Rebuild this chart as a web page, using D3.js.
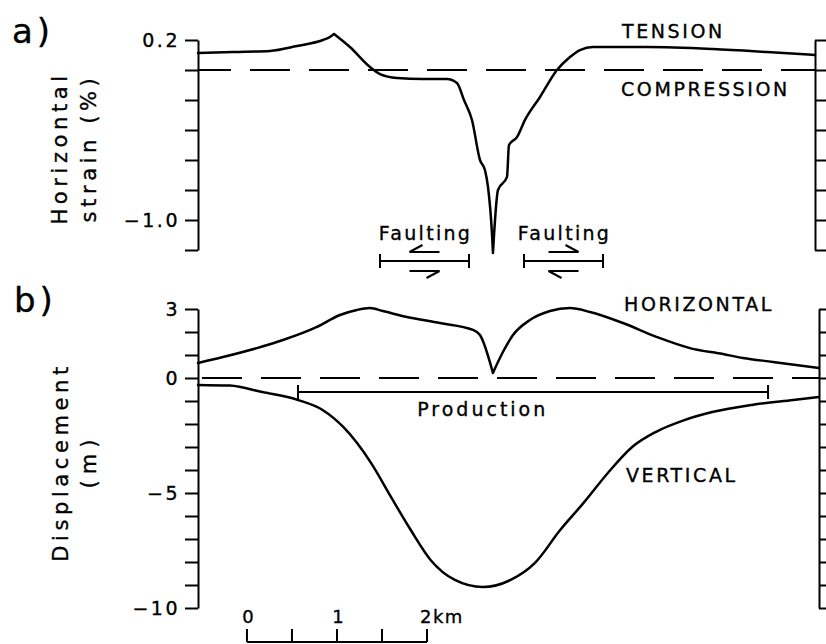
<!DOCTYPE html>
<html><head><meta charset="utf-8">
<script src="https://cdn.jsdelivr.net/npm/d3@7"></script>
<style>body{margin:0;background:#fff}svg{display:block}</style>
</head><body>
<svg id="c" width="826" height="644"></svg>
<script>
// ---------- data (distance in km from scale-bar origin) ----------
const strainKm  = [-0.544,-0.156,0.256,0.556,0.844,0.922,0.967,1.144,1.367,1.478,1.667,1.956,2.222,2.333,2.411,2.5,2.589,2.644,2.678,2.722,2.733,2.789,2.889,2.911,3.0,3.089,3.256,3.444,3.589,3.7,3.844,4.444,5.178,5.778,6.311];
const strainPct = [0.113,0.12,0.127,0.16,0.2,0.22,0.24,0.153,0.02,-0.027,-0.053,-0.06,-0.06,-0.087,-0.2,-0.333,-0.6,-0.667,-0.78,-1.09,-1.22,-0.8,-0.713,-0.5,-0.447,-0.333,-0.18,0.0,0.087,0.133,0.153,0.153,0.14,0.12,0.1];

const horizKm = [-0.544,-0.267,0.111,0.4,0.778,1.033,1.222,1.367,1.511,1.778,2.144,2.511,2.589,2.733,2.844,2.956,3.144,3.367,3.589,3.811,4.178,4.556,4.922,5.289,5.511,5.844,6.356];
const horizM  = [0.65,0.91,1.30,1.65,2.22,2.74,2.96,3.04,2.91,2.65,2.39,2.09,1.87,0.22,1.13,1.87,2.52,2.91,3.04,2.87,2.39,1.78,1.30,1.04,0.87,0.70,0.43];

const vertKm = [-0.544,-0.19,0.17,0.57,0.84,1.07,1.38,1.60,1.82,2.04,2.31,2.62,2.93,3.20,3.48,3.74,4.01,4.28,4.54,4.86,5.17,5.61,6.07,6.356];
const vertM  = [-0.30,-0.33,-0.61,-0.96,-1.39,-2.13,-3.70,-5.17,-6.61,-7.91,-8.78,-9.09,-8.78,-8.04,-6.61,-5.43,-4.13,-3.00,-2.35,-1.83,-1.48,-1.17,-0.96,-0.83];

const strainTicks = [0.2,0,-0.2,-0.4,-0.6,-0.8,-1.0,-1.2];
const strainTickLabels = {"0.2":"0.2","-1":"\u22121.0"};
const dispTicks = [3,2,1,0,-1,-2,-3,-4,-5,-6,-7,-8,-9,-10];
const dispTickLabels = {"3":"3","0":"0","-5":"\u22125","-10":"\u221210"};

const productionKm = [0.567, 5.79];
const faultZonesKm = [[1.478, 2.467], [3.078, 3.956]];
const faultSense = [-1, 1];   // direction of the upper arrow
const scaleBarKm = [0, 0.5, 1, 1.5, 2];
const scaleBarLabels = ["0", "1", "2km"];
const scaleBarLabelKm = [0, 1, 2];

// ---------- setup ----------
const svg = d3.select("#c");
const FONT = "'DejaVu Sans', sans-serif";
const xA = d3.scaleLinear().domain([-0.544, 6.311]).range([198, 815]);
const xB = d3.scaleLinear().domain([-0.544, 6.356]).range([198, 819]);
const yA = d3.scaleLinear().domain([-1.2, 0.2]).range([250, 40]);
const yB = d3.scaleLinear().domain([-10, 3]).range([608, 309]);

function styleAxis(g) {
  g.selectAll("path.domain").attr("stroke", "#000").attr("stroke-width", 2);
  g.selectAll(".tick line").attr("stroke", "#000").attr("stroke-width", 2);
  g.selectAll(".tick text").attr("font-family", FONT).attr("font-size", 19)
    .attr("letter-spacing", 2.5).attr("fill", "#000")
    .attr("stroke", "#000").attr("stroke-width", 0.35);
}
function addAxes(y, ticks, labels, xl, xr) {
  const left = svg.append("g").attr("transform", `translate(${xl},0)`)
    .call(d3.axisLeft(y).tickValues(ticks).tickSize(13).tickSizeOuter(0).tickPadding(5)
      .tickFormat(d => labels[String(+d.toFixed(4))] || ""));
  styleAxis(left);
  const right = svg.append("g").attr("transform", `translate(${xr},0)`)
    .call(d3.axisRight(y).tickValues(ticks).tickSize(13).tickSizeOuter(0).tickFormat(""));
  styleAxis(right);
}
addAxes(yA, strainTicks, strainTickLabels, 198, 815);
addAxes(yB, dispTicks, dispTickLabels, 198, 819);

// dashed zero lines
svg.append("line").attr("x1", xA.range()[0]).attr("x2", xA.range()[1])
  .attr("y1", yA(0)).attr("y2", yA(0)).attr("stroke", "#000").attr("stroke-width", 2)
  .attr("stroke-dasharray", "40 19").attr("stroke-dashoffset", 7);
svg.append("line").attr("x1", xB.range()[0]).attr("x2", xB.range()[1])
  .attr("y1", yB(0)).attr("y2", yB(0)).attr("stroke", "#000").attr("stroke-width", 2)
  .attr("stroke-dasharray", "40 19").attr("stroke-dashoffset", 55);

// curves, split at sharp cusps
function drawCurve(xs, ys, xs_, ys_, cusps) {
  const pts = [];
  xs.forEach((k, i) => {
    pts.push([k, ys[i]]);
    if (cusps.includes(i)) { pts.push(null); pts.push([k, ys[i]]); }
  });
  const line = d3.line().defined(d => d !== null)
    .x(d => xs_(d[0])).y(d => ys_(d[1])).curve(d3.curveMonotoneX);
  svg.append("path").attr("d", line(pts)).attr("fill", "none").attr("stroke", "#000")
    .attr("stroke-width", 2.5).attr("stroke-linejoin", "round").attr("stroke-linecap", "round");
}
drawCurve(strainKm, strainPct, xA, yA, [d3.maxIndex(strainPct), d3.minIndex(strainPct)]);
drawCurve(horizKm, horizM, xB, yB, [d3.minIndex(horizM)]);
drawCurve(vertKm, vertM, xB, yB, []);

// text helper
function txt(x, y, s, opts = {}) {
  const t = svg.append("text").attr("x", x).attr("y", y).text(s)
    .attr("font-family", FONT).attr("font-size", opts.size || 19)
    .attr("letter-spacing", opts.ls != null ? opts.ls : 2.6)
    .attr("text-anchor", opts.anchor || "start").attr("fill", "#000")
    .attr("stroke", "#000").attr("stroke-width", 0.35);
  if (opts.rotate) t.attr("transform", `rotate(-90,${x},${y})`);
  return t;
}

// panel letters
txt(12, 43, "a)", { size: 34, ls: 4 });
txt(14, 312, "b)", { size: 34, ls: 4 });

// axis titles
txt(67, 148, "Horizontal", { size: 21, ls: 4.6, anchor: "middle", rotate: true });
txt(96, 148, "strain (%)", { size: 21, ls: 4.6, anchor: "middle", rotate: true });
txt(68, 462, "Displacement", { size: 21, ls: 4.6, anchor: "middle", rotate: true });
txt(96, 461, "(m)", { size: 21, ls: 6, anchor: "middle", rotate: true });

// curve labels
txt(622, 38, "TENSION");
txt(621, 96, "COMPRESSION");
txt(624, 311, "HORIZONTAL");
txt(626, 482, "VERTICAL");

// production bar
const prodY = 392;
svg.append("line").attr("x1", xB(productionKm[0])).attr("x2", xB(productionKm[1]))
  .attr("y1", prodY).attr("y2", prodY).attr("stroke", "#000").attr("stroke-width", 2);
productionKm.forEach(k => svg.append("line").attr("x1", xB(k)).attr("x2", xB(k))
  .attr("y1", prodY - 7).attr("y2", prodY + 7).attr("stroke", "#000").attr("stroke-width", 2));
txt(xB(2.62), 416, "Production", { anchor: "middle", ls: 3 });

// faulting zones
const faultY = 261;
faultZonesKm.forEach((z, i) => {
  const x0 = xA(z[0]), x1 = xA(z[1]), cx = (x0 + x1) / 2;
  svg.append("line").attr("x1", x0).attr("x2", x1).attr("y1", faultY).attr("y2", faultY)
    .attr("stroke", "#000").attr("stroke-width", 2);
  [x0, x1].forEach(x => svg.append("line").attr("x1", x).attr("x2", x)
    .attr("y1", faultY - 7).attr("y2", faultY + 7).attr("stroke", "#000").attr("stroke-width", 2));
  txt(cx + 1, 240, "Faulting", { anchor: "middle", ls: 2.3 });
  // half arrows
  [[faultSense[i], faultY - 9, -1], [-faultSense[i], faultY + 10, 1]].forEach(([dir, yy, bs]) => {
    const tip = cx + dir * 15, tail = cx - dir * 15;
    svg.append("path")
      .attr("d", `M${tail},${yy}L${tip},${yy}L${tip - dir * 13},${yy + bs * 7}`)
      .attr("fill", "none").attr("stroke", "#000").attr("stroke-width", 2);
  });
});

// scale bar
const sbY = 642;
svg.append("line").attr("x1", xA(scaleBarKm[0])).attr("x2", xA(scaleBarKm[scaleBarKm.length - 1]))
  .attr("y1", sbY).attr("y2", sbY).attr("stroke", "#000").attr("stroke-width", 2);
scaleBarKm.forEach(k => svg.append("line").attr("x1", xA(k)).attr("x2", xA(k))
  .attr("y1", sbY - 13).attr("y2", sbY).attr("stroke", "#000").attr("stroke-width", 2));
scaleBarLabels.forEach((s, i) => {
  const x = xA(scaleBarLabelKm[i]);
  if (i < scaleBarLabels.length - 1) txt(x + 1, 623, s, { anchor: "middle", ls: 0, size: 18 });
  else txt(x - 7, 623, s, { ls: 1.5, size: 18 });
});
</script>
</body></html>
